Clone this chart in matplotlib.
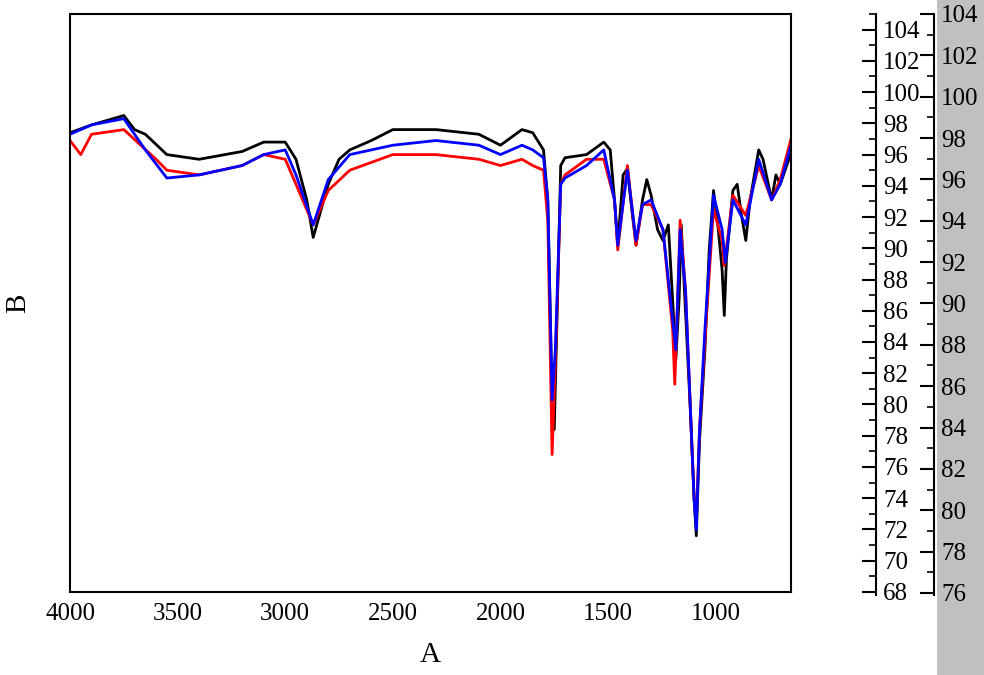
import matplotlib
matplotlib.use("Agg")
import matplotlib.pyplot as plt
import numpy as np

plt.rcParams['font.family'] = ['Liberation Serif', 'DejaVu Serif']

bx = [4000,3900,3750,3700,3650,3550,3400,3200,3100,3000,2950,2900,2870,2800,2750,2700,2600,2500,2300,2100,2000,1900,1850,1800,1780,1760,1750,1735,1720,1700,1600,1520,1490,1470,1455,1430,1410,1390,1370,1340,1320,1300,1270,1245,1220,1200,1185,1170,1160,1145,1120,1100,1090,1075,1050,1030,1010,990,970,960,950,920,900,880,860,840,800,780,740,720,700,660,650]
black = [97.4,97.9,98.5,97.6,97.3,96.0,95.7,96.2,96.8,96.8,95.7,93.1,90.7,94.1,95.7,96.3,96.9,97.6,97.6,97.3,96.6,97.6,97.4,96.3,93.1,80.3,78.4,86.7,95.3,95.8,96.0,96.8,96.3,93.1,90.2,94.7,95.1,92.5,90.2,93.1,94.4,93.4,91.2,90.5,91.5,86.7,82.9,86.7,91.5,87.3,80.3,73.9,71.6,77.7,83.5,89.9,93.7,91.5,88.6,85.7,89.3,93.7,94.1,92.1,90.5,93.1,96.3,95.7,93.1,94.7,94.1,95.7,96.3]

rx = [4000,3950,3900,3750,3600,3550,3400,3200,3100,3000,2950,2870,2800,2700,2500,2300,2100,2000,1900,1850,1800,1780,1760,1740,1720,1700,1600,1520,1470,1455,1410,1370,1340,1300,1245,1200,1190,1165,1140,1100,1090,1075,1050,1010,970,960,920,860,800,740,700,650]
red = [96.9,96.0,97.3,97.6,95.7,95.0,94.7,95.3,96.0,95.7,94.1,91.5,93.7,95.0,96.0,96.0,95.7,95.3,95.7,95.3,95.0,91.8,76.8,84.8,94.1,94.7,95.7,95.7,93.1,89.9,95.3,90.2,92.8,92.8,91.2,84.8,81.3,91.8,87.3,73.9,72.6,78.4,84.1,92.5,90.5,88.9,93.4,92.1,95.3,93.1,94.4,97.0]

ux = [4000,3900,3750,3650,3550,3400,3200,3100,3000,2950,2870,2800,2700,2500,2300,2100,2000,1900,1850,1800,1780,1760,1745,1720,1700,1600,1520,1470,1455,1410,1370,1340,1300,1245,1200,1185,1165,1140,1100,1090,1075,1050,1010,970,955,920,860,800,740,700,650]
blue = [97.3,97.9,98.3,96.3,94.5,94.7,95.3,96.0,96.3,94.7,91.5,94.4,96.0,96.6,96.9,96.6,96.0,96.6,96.3,95.8,93.1,80.3,83.5,94.1,94.5,95.3,96.3,93.1,90.2,95.0,90.5,92.8,93.1,91.2,85.4,83.5,91.2,87.3,73.9,72.0,78.4,84.8,93.4,91.2,89.1,93.1,91.5,95.7,93.1,94.1,96.6]

fig = plt.figure(figsize=(9.84,6.75), dpi=100)
W, H = 984, 675
bg = fig.add_axes([937/W, 0, 47/W, 1], zorder=-10)
bg.set_axis_off()
bg.add_patch(plt.Rectangle((0,0),1,1,color='#c0c0c0',transform=bg.transAxes))

ax = fig.add_axes([70/W, 1-592/H, 721/W, 578/H])
ax.plot(bx, black, color='black', lw=2)
ax.plot(rx, red, color='red', lw=2)
ax.plot(ux, blue, color='blue', lw=2)
ax.set_xlim(4000, 650)
ax.set_ylim(68, 105)
ax.set_yticks([])
ax.set_xticks([4000,3500,3000,2500,2000,1500,1000])
ax.tick_params(axis='x', labelsize=18, direction='in', length=0, pad=8)
ax.set_xlabel('A', fontsize=21, labelpad=12)
ax.set_ylabel('B', fontsize=21, labelpad=28)
for s in ax.spines.values():
    s.set_linewidth(1.5)

def side_axis(x, lo, hi):
    a = fig.add_axes([x/W, 1-595/H, 0.0001, 581/H], zorder=5)
    a.patch.set_visible(False)
    for k in ['top','bottom','left']:
        a.spines[k].set_visible(False)
    a.spines['right'].set_linewidth(1.5)
    a.set_xticks([])
    a.set_ylim(lo, hi)
    a.yaxis.set_ticks_position('right')
    a.set_yticks(np.arange(np.ceil(lo/2)*2, hi+0.01, 2))
    a.set_yticks(np.arange(np.ceil(lo), hi+0.01, 1), minor=True)
    a.tick_params(axis='y', which='major', direction='in', length=10, width=1.5, labelsize=18, pad=5, right=True, labelright=True, left=False, labelleft=False)
    a.tick_params(axis='y', which='minor', direction='in', length=5, width=1.2, right=True, left=False)
    return a

side_axis(876, 67.8, 105.0)
side_axis(934, 75.9, 104.0)

fig.savefig('out.png', dpi=100)
